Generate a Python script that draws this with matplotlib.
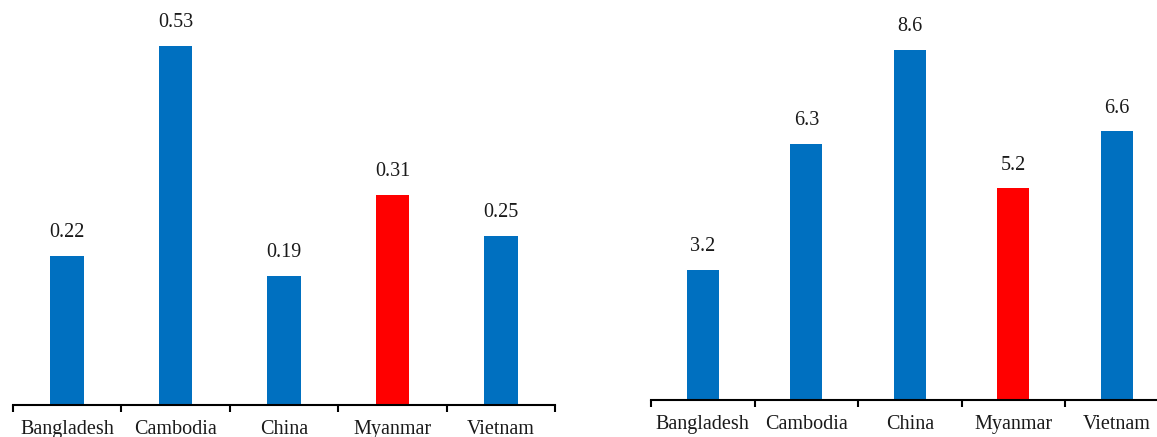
import matplotlib.pyplot as plt
import numpy as np

paises = ["Bangladesh", "Cambodia", "China", "Myanmar", "Vietnam"]
valores_esq = [0.22, 0.53, 0.19, 0.31, 0.25]
valores_dir = [3.2, 6.3, 8.6, 5.2, 6.6]
rotulos_esq = ["0.22", "0.53", "0.19", "0.31", "0.25"]
rotulos_dir = ["3.2", "6.3", "8.6", "5.2", "6.6"]
destaque = "Myanmar"

azul = "#0070C0"
vermelho = "#FF0000"

plt.rcParams['font.family'] = ['Liberation Serif', 'DejaVu Serif']

fig = plt.figure(figsize=(11.57, 4.37), dpi=100)


def desenhar(ax, valores, rotulos, ylim):
    x = np.arange(len(paises))
    cores = [vermelho if p == destaque else azul for p in paises]
    barras = ax.bar(x, valores, width=0.31, color=cores)
    for b, r in zip(barras, rotulos):
        ax.annotate(r, (b.get_x() + b.get_width() / 2, b.get_height()),
                    xytext=(0, 10), textcoords="offset points",
                    ha="center", va="bottom", fontsize=14.5, color="#1a1a1a")
    ax.set_xlim(-0.5, len(paises) - 0.5)
    ax.set_ylim(0, ylim)
    ax.set_xticks(x)
    ax.set_xticklabels(paises, fontsize=14.5, color="#1a1a1a")
    ax.tick_params(axis="x", which="major", length=0, pad=11)
    ax.set_xticks(np.arange(len(paises) + 1) - 0.5, minor=True)
    ax.tick_params(axis="x", which="minor", length=5, width=1.5, direction="out")
    ax.set_yticks([])
    for lado in ["top", "right", "left"]:
        ax.spines[lado].set_visible(False)
    ax.spines["bottom"].set_linewidth(1.5)


ax1 = fig.add_axes([13 / 1157, 32 / 437, 542 / 1157, 405 / 437])
desenhar(ax1, valores_esq, rotulos_esq, 0.598)

ax2 = fig.add_axes([651 / 1157, 37 / 437, 517.5 / 1157, 400 / 437])
desenhar(ax2, valores_dir, rotulos_dir, 9.83)

fig.savefig("out.png", dpi=100)
